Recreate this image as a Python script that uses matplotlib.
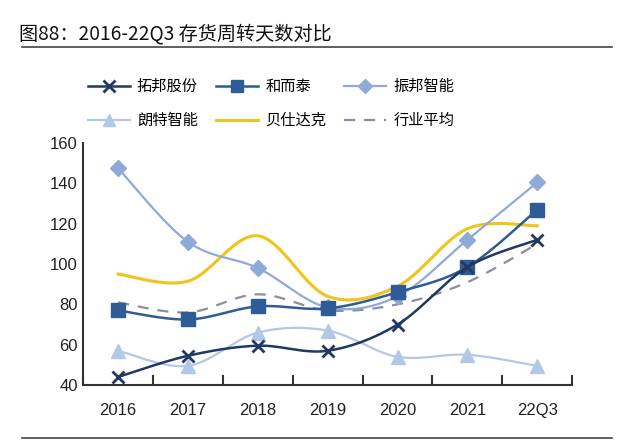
import numpy as np
import matplotlib
matplotlib.use("Agg")
import matplotlib.pyplot as plt
from matplotlib.lines import Line2D

plt.rcParams['font.family'] = ['Noto Sans CJK SC', 'DejaVu Sans']

categories = ["2016", "2017", "2018", "2019", "2020", "2021", "22Q3"]
tuobang = [44, 54.5, 59.5, 57, 70, 98.5, 112]
heertai = [77, 72.5, 79, 78, 86, 98.5, 127]
zhenbang = [147.5, 111, 98, 78.5, 84, 112, 140.5]
langte = [57, 49.5, 66, 67, 54, 55, 49.5]
beishida = [95, 91.5, 114, 84, 89, 117.5, 119]
industry_avg = [81, 76, 85, 77, 80, 91, 110]

series_names = ["拓邦股份", "和而泰", "振邦智能", "朗特智能", "贝仕达克", "行业平均"]


def smooth(xs, ys, n=40):
    xs = np.asarray(xs, float)
    ys = np.asarray(ys, float)
    P = np.column_stack([xs, ys])
    Pe = np.vstack([P[0], P, P[-1]])
    out = []
    for i in range(len(P) - 1):
        p0, p1, p2, p3 = Pe[i], Pe[i + 1], Pe[i + 2], Pe[i + 3]
        c1 = p1 + (p2 - p0) / 6.0
        c2 = p2 - (p3 - p1) / 6.0
        t = np.linspace(0, 1, n)[:, None]
        seg = ((1 - t) ** 3) * p1 + 3 * ((1 - t) ** 2) * t * c1 + 3 * (1 - t) * t ** 2 * c2 + t ** 3 * p2
        out.append(seg if i == 0 else seg[1:])
    arr = np.vstack(out)
    return arr[:, 0], arr[:, 1]


fig = plt.figure(figsize=(6.4, 4.48), dpi=100)
fig.patch.set_facecolor("white")
ax = fig.add_axes([0.13, 0.1406, 0.764, 0.54])

x = np.arange(len(categories))

styles = [
    dict(data=tuobang, color="#1f3864", marker="x", ms=9, mew=2.0, lw=1.8, ls="-", mfc="#1f3864"),
    dict(data=heertai, color="#2f5b97", marker="s", ms=10, mew=1, lw=1.8, ls="-", mfc="#2f5b97"),
    dict(data=zhenbang, color="#8eaad6", marker="D", ms=8, mew=1, lw=1.6, ls="-", mfc="#8eaad6"),
    dict(data=langte, color="#b3c7e6", marker="^", ms=10, mew=1, lw=1.6, ls="-", mfc="#b3c7e6"),
    dict(data=beishida, color="#f0c419", marker=None, ms=0, mew=0, lw=2.2, ls="-", mfc="#f0c419"),
    dict(data=industry_avg, color="#8c8ca3", marker=None, ms=0, mew=0, lw=1.6, ls=(0, (5, 4)), mfc="#8c8ca3"),
]

handles = []
zorders = [6, 5, 4, 3, 2, 1]
for name, st, z in zip(series_names, styles, zorders):
    sx, sy = smooth(x, st["data"])
    ax.plot(sx, sy, color=st["color"], lw=st["lw"], ls=st["ls"], zorder=z)
    if st["marker"]:
        ax.plot(x, st["data"], ls="none", marker=st["marker"], ms=st["ms"],
                mfc=st["mfc"], mec=st["color"], mew=st["mew"], zorder=z + 0.5)
    handles.append(Line2D([0], [0], color=st["color"], lw=st["lw"], ls=st["ls"],
                          marker=st["marker"], ms=st["ms"] * 0.9 if st["marker"] else 0,
                          mfc=st["mfc"], mec=st["color"], mew=st["mew"]))

ax.set_xlim(-0.5, len(categories) - 0.5)
ax.set_ylim(40, 160)
ax.set_yticks(np.arange(40, 161, 20))
ax.set_xticks(x)
ax.set_xticklabels(categories)
ax.set_xticks(np.arange(-0.5, len(categories), 1.0), minor=True)
ax.tick_params(axis="x", which="major", length=0, pad=13, labelsize=12, labelcolor="#222222")
ax.tick_params(axis="x", which="minor", direction="in", length=7, width=1.5, color="#333333")
ax.tick_params(axis="y", length=0, pad=4, labelsize=12, labelcolor="#222222")
for lab in ax.get_xticklabels() + ax.get_yticklabels():
    lab.set_family(["Liberation Sans", "DejaVu Sans"])

for s in ["top", "right"]:
    ax.spines[s].set_visible(False)
for s in ["left", "bottom"]:
    ax.spines[s].set_color("#333333")
    ax.spines[s].set_linewidth(1.5)

order = [0, 3, 1, 4, 2, 5]
fig.legend([handles[i] for i in order], [series_names[i] for i in order],
           loc="center left", bbox_to_anchor=(0.1375, 0.769), ncol=3, frameon=False,
           fontsize=11, handlelength=2.75, columnspacing=1.2, labelspacing=1.12,
           handletextpad=0.45, borderpad=0, borderaxespad=0)

fig.text(0.03, 0.925, "图88：2016-22Q3 存货周转天数对比", fontsize=13.8, color="#111111",
         va="center", ha="left")
fig.add_artist(Line2D([0.034, 0.956], [0.895, 0.895], color="#444444", lw=1.2))
fig.add_artist(Line2D([0.034, 0.956], [0.022, 0.022], color="#444444", lw=1.2))

fig.savefig("out.png", dpi=100, facecolor="white")
